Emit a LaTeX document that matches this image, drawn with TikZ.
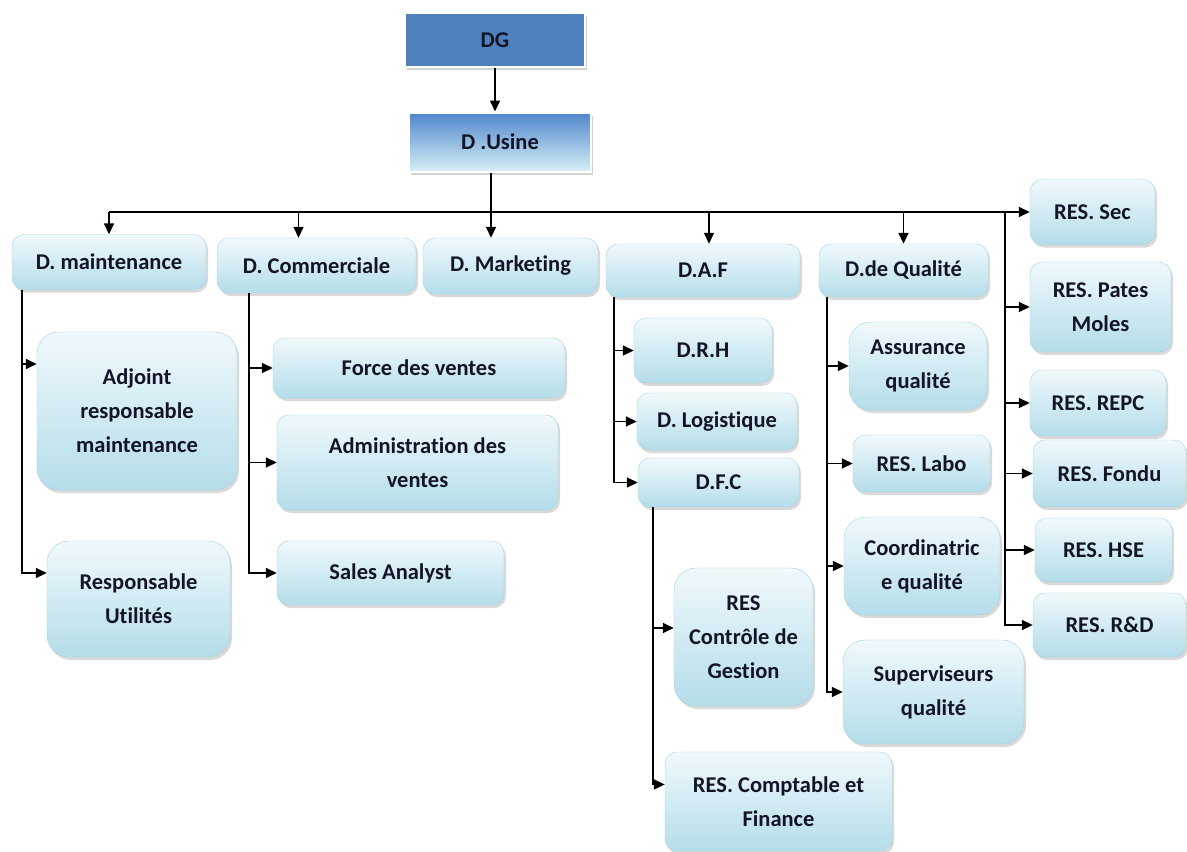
\documentclass[tikz,border=0pt]{standalone}
\usepackage{fontspec}
\setmainfont[Ligatures=NoCommon]{Carlito}
\usetikzlibrary{arrows.meta, shadows, positioning}
\definecolor{boxtop}{HTML}{F0F9FC}
\definecolor{boxbot}{HTML}{B4DDEA}
\definecolor{boxline}{HTML}{A3D3E2}
\definecolor{dgblue}{HTML}{4F81BD}
\definecolor{usinetop}{HTML}{4F86CB}
\definecolor{usinebot}{HTML}{D6EFF7}
\definecolor{inktext}{HTML}{141428}
\tikzstyle{unit} = [rectangle, rounded corners=12pt, draw=boxline, top color=boxtop, bottom color=boxbot, drop shadow={shadow xshift=2pt, shadow yshift=-3pt, opacity=0.3}, align=center, text=inktext, font=\fontsize{22.5}{34}\selectfont\bfseries, inner sep=4pt]
\tikzstyle{tallunit} = [unit, rounded corners=22pt]
\tikzstyle{head} = [rectangle, fill=dgblue, draw=white, line width=2.5pt, drop shadow={shadow xshift=2pt, shadow yshift=-3pt, opacity=0.35}, text=inktext, font=\fontsize{22.5}{34}\selectfont\bfseries]
\tikzstyle{plant} = [rectangle, top color=usinetop, bottom color=usinebot, draw=white, line width=2pt, drop shadow={shadow xshift=2pt, shadow yshift=-3pt, opacity=0.35}, text=inktext, font=\fontsize{22.5}{34}\selectfont\bfseries]
\tikzstyle{arrow} = [-{Triangle[length=11pt,width=10pt]}, line width=1.6pt]
\tikzstyle{wire} = [line width=1.6pt]

\begin{document}
\begin{tikzpicture}[x=1pt, y=-1pt]
  \useasboundingbox (0,0) rectangle (1187,852);

  % direction
  \node[head, minimum width=180pt, minimum height=54pt] (dg) at (495,40) {DG};
  \node[plant, minimum width=182pt, minimum height=59pt] (usine) at (500,142) {D .Usine};

  % departments
  \node[unit, minimum width=194pt, minimum height=55pt] (maint) at (109,262) {D. maintenance};
  \node[unit, minimum width=199pt, minimum height=55pt] (comm) at (316.5,265.5) {D. Commerciale};
  \node[unit, minimum width=175pt, minimum height=56pt] (mkt) at (510.5,266) {D. Market{}ing};
  \node[unit, minimum width=194pt, minimum height=53pt] (daf) at (703,270.5) {D.A.F};
  \node[unit, minimum width=169pt, minimum height=53pt] (qual) at (903.5,270.5) {D.de Qualité};

  % responsables on the right
  \node[unit, minimum width=125pt, minimum height=65pt] (sec) at (1092.5,212) {RES. Sec};
  \node[unit, minimum width=141pt, minimum height=90pt] (pates) at (1100.5,307) {RES. Pates\\Moles};
  \node[unit, minimum width=136pt, minimum height=66pt] (repc) at (1098,403) {RES. REPC};
  \node[unit, minimum width=153pt, minimum height=67pt] (fondu) at (1109.5,473.5) {RES. Fondu};
  \node[unit, minimum width=137pt, minimum height=64pt] (hse) at (1103.5,550) {RES. HSE};
  \node[unit, minimum width=153pt, minimum height=64pt] (rd) at (1109.5,625) {RES. R\&D};

  % maintenance
  \node[tallunit, minimum width=200pt, minimum height=158pt] (adj) at (137,411) {Adjoint\\responsable\\maintenance};
  \node[tallunit, minimum width=183pt, minimum height=116pt] (util) at (138.5,599) {Responsable\\Utilités};

  % commercial
  \node[unit, minimum width=292pt, minimum height=60pt] (force) at (419,368) {Force des ventes};
  \node[unit, minimum width=281pt, minimum height=95pt] (admin) at (417.5,462.5) {Administration des\\ventes};
  \node[unit, minimum width=227pt, minimum height=64pt] (sales) at (390.5,573) {Sales Analyst};

  % daf
  \node[unit, minimum width=138pt, minimum height=65pt] (drh) at (703,350.5) {D.R.H};
  \node[unit, minimum width=160pt, minimum height=57pt] (logi) at (717,421.5) {D. Logist{}ique};
  \node[unit, minimum width=161pt, minimum height=49pt] (dfc) at (718.5,482.5) {D.F.C};
  \node[tallunit, minimum width=139pt, minimum height=138pt] (ctrl) at (743.5,637) {RES\\Contrôle de\\Gestion};
  \node[unit, minimum width=227pt, minimum height=99pt] (compt) at (778.5,801.5) {RES. Comptable et\\Finance};

  % qualite
  \node[tallunit, minimum width=138pt, minimum height=88pt] (assur) at (918,366) {Assurance\\qualité};
  \node[unit, minimum width=137pt, minimum height=57pt] (labo) at (921.5,463.5) {RES. Labo};
  \node[tallunit, minimum width=156pt, minimum height=98pt] (coord) at (922,566) {Coordinatric\\e qualité};
  \node[tallunit, minimum width=181pt, minimum height=104pt] (superv) at (933.5,692) {Superviseurs\\qualité};

  \coordinate (bus) at (491,212);
  \coordinate (rbus) at (1005,212);

  \draw[arrow] (dg.south) -- (dg.south |- usine.north);
  \draw[arrow] (usine.south -| bus) -- (bus |- mkt.north);
  \draw[arrow] (bus -| maint.north) -- (sec.west);
  \draw[arrow] (bus -| maint.north) -- (maint.north);
  \draw[arrow] ([xshift=-18pt]comm.north |- bus) -- ([xshift=-18pt]comm.north);
  \draw[arrow] ([xshift=6pt]daf.north |- bus) -- ([xshift=6pt]daf.north);
  \draw[arrow] (qual.north |- bus) -- (qual.north);

  \draw[arrow] (rbus) |- (pates.west);
  \draw[arrow] (rbus) |- (repc.west);
  \draw[arrow] (rbus) |- (fondu.west);
  \draw[arrow] (rbus) |- (hse.west);
  \draw[arrow] (rbus) |- (rd.west);

  \draw[arrow] ([xshift=10pt]maint.south west) |- ([yshift=47pt]adj.west);
  \draw[arrow] ([xshift=10pt]maint.south west) |- ([yshift=26pt]util.west);

  \draw[arrow] ([xshift=32pt]comm.south west) |- (force.west);
  \draw[arrow] ([xshift=32pt]comm.south west) |- (admin.west);
  \draw[arrow] ([xshift=32pt]comm.south west) |- (sales.west);

  \draw[arrow] ([xshift=8pt]daf.south west) |- (drh.west);
  \draw[arrow] ([xshift=8pt]daf.south west) |- (logi.west);
  \draw[arrow] ([xshift=8pt]daf.south west) |- (dfc.west);

  \draw[arrow] ([xshift=15pt]dfc.south west) |- ([yshift=9pt]ctrl.west);
  \draw[arrow] ([xshift=15pt]dfc.south west) |- ([yshift=17pt]compt.west);

  \draw[arrow] ([xshift=8pt]qual.south west) |- (assur.west);
  \draw[arrow] ([xshift=8pt]qual.south west) |- (labo.west);
  \draw[arrow] ([xshift=8pt]qual.south west) |- (coord.west);
  \draw[arrow] ([xshift=8pt]qual.south west) |- (superv.west);
\end{tikzpicture}
\end{document}
